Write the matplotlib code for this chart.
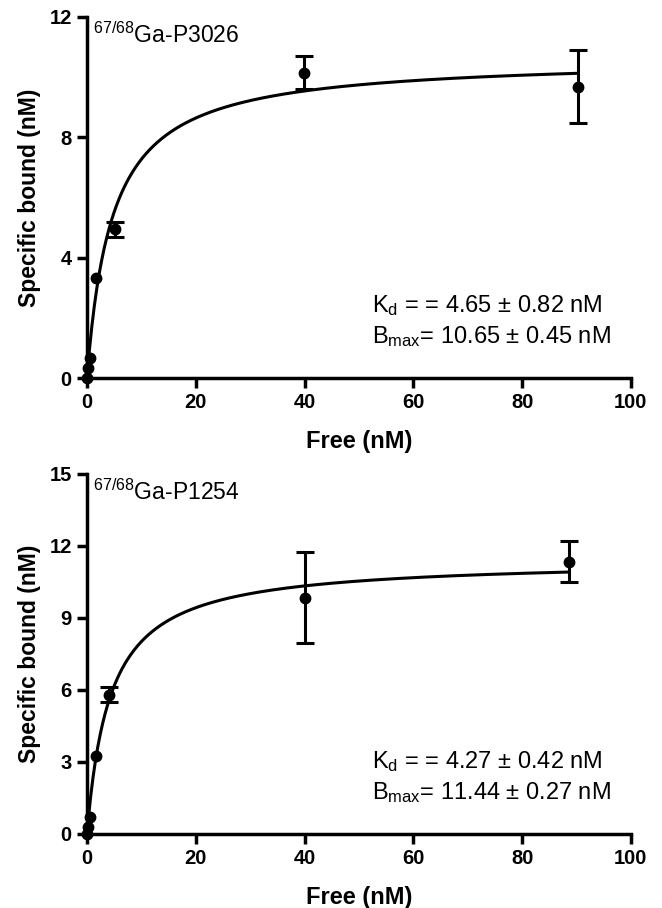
import numpy as np
import matplotlib.pyplot as plt

plt.rcParams['font.family'] = ['Liberation Sans', 'DejaVu Sans']
plt.rcParams['mathtext.fontset'] = 'custom'
plt.rcParams['mathtext.rm'] = 'Liberation Sans'
plt.rcParams['mathtext.it'] = 'Liberation Sans'

# Dane - Ga-P3026
x1 = [0.05, 0.2, 0.5, 1.6, 5.1, 39.9, 90.3]
y1 = [0.0, 0.33, 0.67, 3.33, 4.94, 10.15, 9.68]
lo1 = [0, 0, 0, 0, 0.24, 0.55, 1.21]
hi1 = [0, 0, 0, 0, 0.26, 0.55, 1.22]
kd1, bmax1 = 4.65, 10.65
xmax1 = 90.3

# Dane - Ga-P1254
x2 = [0.05, 0.2, 0.5, 1.6, 4.1, 40.1, 88.7]
y2 = [0.0, 0.3, 0.71, 3.26, 5.8, 9.85, 11.35]
lo2 = [0, 0, 0, 0, 0.3, 1.9, 0.85]
hi2 = [0, 0, 0, 0, 0.31, 1.89, 0.85]
kd2, bmax2 = 4.27, 11.44
xmax2 = 88.7

panels = [
    (x1, y1, lo1, hi1, kd1, bmax1, xmax1, 12, [0, 4, 8, 12],
     'P3026', '4.65 ± 0.82', '10.65 ± 0.45', [0.1314, 0.5837, 0.8216, 0.3976]),
    (x2, y2, lo2, hi2, kd2, bmax2, xmax2, 15, [0, 3, 6, 9, 12, 15],
     'P1254', '4.27 ± 0.42', '11.44 ± 0.27', [0.1314, 0.0815, 0.8216, 0.3965]),
]

fig = plt.figure(figsize=(6.62, 9.08), dpi=100)

for x, y, lo, hi, kd, bmax, xm, ytop, yt, name, kd_s, bm_s, pos in panels:
    ax = fig.add_axes(pos)
    # Krzywa wiązania jednego miejsca
    xf = np.linspace(0, xm, 400)
    ax.plot(xf, bmax * xf / (kd + xf), color='black', lw=2.2, clip_on=False)
    ax.plot(x, y, 'o', color='black', ms=7.5, clip_on=False, zorder=3)
    # Słupki błędów tylko tam, gdzie są niezerowe
    x = np.array(x)
    y = np.array(y)
    lo = np.array(lo)
    hi = np.array(hi)
    m = (lo > 0) | (hi > 0)
    ax.errorbar(x[m], y[m], yerr=[lo[m], hi[m]], fmt='none', ecolor='black',
                elinewidth=2.2, capsize=6.5, capthick=2.2, clip_on=False, zorder=3)
    ax.set_xlim(0, 100)
    ax.set_ylim(0, ytop)
    ax.set_xticks([0, 20, 40, 60, 80, 100])
    ax.set_yticks(yt)
    for s in ['top', 'right']:
        ax.spines[s].set_visible(False)
    for s in ['left', 'bottom']:
        ax.spines[s].set_linewidth(2.5)
    ax.tick_params(width=2.5, length=7.5, direction='out', labelsize=14.5)
    for lab in ax.get_xticklabels() + ax.get_yticklabels():
        lab.set_fontweight('bold')
    ax.set_xlabel('Free (nM)', fontsize=17, fontweight='bold', labelpad=13)
    ax.set_ylabel('Specific bound (nM)', fontsize=16.5, fontweight='bold', labelpad=6)
    ax.text(0.011, 0.928, r'$^{\mathregular{67/68}}$Ga-' + name,
            transform=ax.transAxes, fontsize=16.5, va='baseline', ha='left')
    ax.text(0.524, 0.183, r'K$_{\mathregular{d}}$ = = ' + kd_s + ' nM',
            transform=ax.transAxes, fontsize=17, va='baseline', ha='left')
    ax.text(0.524, 0.098, r'B$_{\mathregular{max}}$= ' + bm_s + ' nM',
            transform=ax.transAxes, fontsize=17, va='baseline', ha='left')

fig.savefig('out.png', dpi=100)
